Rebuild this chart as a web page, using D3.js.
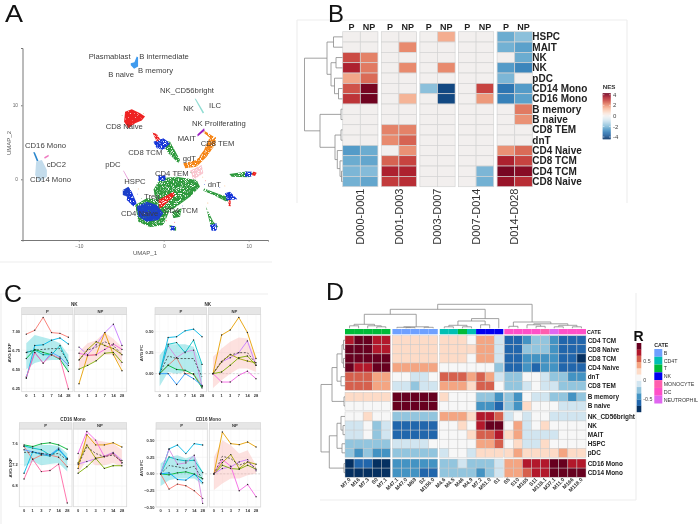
<!DOCTYPE html>
<html><head><meta charset="utf-8">
<script src="https://cdn.jsdelivr.net/npm/d3@7"></script>
<style>html,body{margin:0;background:#fff}svg{display:block;font-family:"Liberation Sans",Arial,sans-serif;filter:blur(.3px)}</style>
</head><body><svg id="c" width="700" height="524"></svg>
<script>
/* ---------- Panel A data (UMAP units) ---------- */
const umapTicksX=[-10,0,10], umapTicksY=[0,10];
const umapGreen=[
 [[-.43,.14],[1.53,.36],[3.88,-.09],[4.27,-.99],[3.1,-2.34],[1.53,-3.69],[.35,-4.59],[-.82,-3.24],[-1.22,-1.44]],
 [[-3.37,-3.47],[-2,-2.57],[-.43,-2.79],[.55,-4.59],[-.04,-6.17],[-1.61,-6.49],[-2.98,-5.72]],
 [[-.43,5.32],[.75,5.09],[1.92,2.61],[1.73,2.16],[.55,3.51]],
 [[7.73,.72],[9.76,1.04],[10.94,.81],[9.96,.27],[8,.36]],
 [[4.67,-1.22],[6.82,-2.12],[8.2,-2.57],[7.41,-3.02],[5.84,-2.12],[4.67,-1.53]],
 [[4.94,-3.69],[5.84,-5.72],[6.43,-6.4],[5.65,-6.85],[5.25,-5.05]],
 [[.94,-4.37],[2.12,-3.92],[1.92,-5.05],[1.14,-5.27]],
 [[.67,-6.17],[1.45,-6.4],[1.45,-6.94],[.75,-6.76]]];
const umapBlueCore=[
 [[-3.18,-3.69],[-2,-3.02],[-.82,-3.47],[-.04,-4.59],[-.63,-5.5],[-2,-5.72],[-2.98,-5.05]],
 [[-4.82,-1.44],[-4.16,-.99],[-3.9,-1.7],[-4.2,-2.4],[-4.82,-2.12]]];
const umapBlue=[
 [[-4.16,-.99],[-3.76,-1.67],[-3.18,-3.24],[-3.57,-3.69],[-4.35,-2.79]],
 [[-1.22,5.09],[-.04,5.54],[.75,4.86],[-.04,3.96],[-.82,4.19]],
 [[9.57,1.04],[10.35,1.04],[10.35,.36],[9.57,.36]],
 [[7.22,-1.89],[7.8,-1.67],[8.67,-2.7],[7.41,-2.88]],
 [[5.45,-6.17],[6.24,-5.95],[6.24,-6.94],[5.65,-6.94]],
 [[-.63,.55],[.2,.55],[.2,-.2],[-.63,-.2]],
 [[.8,-6.3],[1.3,-6.3],[1.3,-6.9],[.8,-6.9]]];
const umapRedCore=[[[-4.55,9.14],[-3.76,9.46],[-2.78,8.92],[-2.2,8.47],[-2.59,7.93],[-3.37,7.57],[-4.16,6.89],[-4.67,7.79]]];
const umapRed=[
 [[-.63,-2.79],[1.14,-1.67],[1.33,-2.12],[-.04,-3.69],[-.51,-3.92]],
 [[-1.33,6.31],[-.82,6.13],[-.43,5.41],[-.82,5.09]],
 [[10.55,1.04],[10.94,.9],[10.75,.45],[10.35,.59]],
 [[7.61,-2.79],[7.88,-2.88],[7.88,-3.69],[7.65,-3.6]]];
const umapOrange=[
 [[5.65,5.77],[6.16,5.68],[6.04,4.64],[5.06,3.06],[3.88,1.71],[2.51,1.49],[2.31,2.16],[3.88,2.61],[4.75,3.96],[5.25,5.32]],
 [[4.75,6.58],[5.84,5.77],[5.65,5.41],[4.67,6.31]]];
const umapPink=[[[3.1,1.17],[4.47,1.94],[4.67,.81],[3.49,-.09]]];
const umapMono=[[-15.02,2.39],[-14.35,2.61],[-13.76,1.26],[-13.76,.36],[-14.63,-.32],[-15.14,.59]];
const umapCD16=[[-15.37,3.65],[-15.18,3.65],[-14.75,2.52],[-14.94,2.43]];
const umapCDC2=[[-14.08,2.97],[-13.57,3.33],[-13.53,3.11],[-14,2.79]];
const umapB=[[-3.88,15.68],[-3.45,15.81],[-3.18,16.58],[-3.02,16.49],[-3.02,15.23],[-3.49,14.95],[-3.88,15.41]];
const umapMAIT=[[3.96,6.04],[4.75,6.89],[4.82,6.58],[4,5.77]];
const umapNK=[[3.65,10.9],[3.78,10.9],[4.75,9.01],[4.6,8.9]];
const umapPDC=[[-4.78,1.17],[-4.7,1.17],[-4.1,-.09],[-4.2,-.09]];
const umapSparse=[[3.2,.9],[4.9,-.2],[4.8,-.7],[4.6,.3],[-.9,-1.6],[-1.6,-2.2],[-3.1,-2],[-3,-1.3],[-2.6,-2.6],[1.2,.7],[2.3,.7],[5.2,-3.2],[2.1,1.1],[1.3,-5.8],[2.2,-3.6],[-2.4,8.9],[-4.9,8.6],[.3,-5.6],[6.6,-1.1],[7.2,-.9]];
const clusterNames=["Plasmablast","B intermediate","B naive","B memory","NK_CD56bright","NK","ILC","NK Proliferating","CD8 Naive","MAIT","CD8 TEM","CD16 Mono","CD8 TCM","cDC2","pDC","gdT","CD4 TEM","CD14 Mono","HSPC","dnT","Treg","CD4 TCM","CD4 Naive"];
const clusterLabelAt=[[88.7,56],[139.3,56],[108.3,74],[138,70.7],[160,90],[183.3,108.3],[209,105],[192,123.3],[105.7,126],[177.7,138],[200.7,143.3],[25,145.7],[128.3,152],[46.7,164.7],[105.3,164],[182.7,158.7],[155,173],[30,179.3],[124.3,181],[207.7,184.3],[144,196],[164,210.3],[121,213.3]];

/* ---------- Panel B data ---------- */
const nesRows=["HSPC","MAIT","NK","NK","pDC","CD14 Mono","CD16 Mono","B memory","B naive","CD8 TEM","dnT","CD4 Naive","CD8 TCM","CD4 TCM","CD8 Naive"];
const nesGroups=["D000-D001","D001-D003","D003-D007","D007-D014","D014-D028"];
const nesSubs=["P","NP"];
const nesValues=[
 [0,0, 0,0, 0,1.6, 0,0, -2.2,-1.8],
 [0,0, 0,2.1, 0,0, 0,0, -2.1,-2.4],
 [2.9,2.2, 0,0, 0,0, 0,0, 0,-2.2],
 [3.5,2.3, 0,2.1, 0,2.1, 0,0, -2.5,-2.9],
 [1.7,2.5, 0,0, 0,0, 0,0, -2,0],
 [2.8,4.2, 0,0, -1.8,-4, 0,3, -3.2,-2.5],
 [3.2,4.3, 0,1.5, 0,-4, 0,1.9, -3,-2.4],
 [0,0, 0,0, 0,0, 0,0, 0,2.3],
 [0,0, 0,0, 0,0, 0,0, 0,2.0],
 [0,0, 2.2,2.2, 0,0, 0,0, 0,0],
 [0,0, 2.1,2.6, 0,0, 0,0, 0,0],
 [-2.5,-2.2, 0,2, 0,0, 0,0, 2,2.5],
 [-2.2,-2.3, 2.6,3, 0,0, 0,0, 3.5,3],
 [-2,-1.9, 3.5,3.5, 0,0, 0,-2, 4.2,4],
 [-2.1,-2.3, 3.1,3.3, 0,0, 0,-2.1, 3.8,3.3]];
const nesLegendTicks=[4,2,0,-2,-4];
const nesTree=[38,[15.5,[9,0,1],[11.5,[6.5,2,3],[8,4,[4,5,6]]]],[22.5,[1.5,7,8],[7.5,[1.5,9,10],[5.2,11,[2.5,12,[1,13,14]]]]]];

/* ---------- Panel C data ---------- */
const days=[0,1,3,7,14,28];
const pColors=["#f8766d","#00b8e7","#00bfc4","#00ba38","#619cff","#ff67a4"];
const npColors=["#c77cff","#e69f00","#a3a500","#7cae00","#f564e3"];
const nkExpP=[[6.96,7.01,7.18,6.98,6.97,6.92],[6.38,6.81,6.82,6.88,6.91,6.83],[6.72,6.75,6.69,6.69,6.81,6.58],[6.64,6.76,6.72,6.69,6.63,6.47],[6.40,6.72,6.58,6.72,6.66,6.55],[6.39,6.72,6.58,6.69,6.64,6.24]];
const nkExpPMean=[6.72,6.75,6.76,6.77,6.77,6.59], nkExpPHi=[6.84,6.95,6.92,6.89,6.84,6.69], nkExpPLo=[6.50,6.58,6.61,6.62,6.62,6.47];
const nkExpNP=[[6.79,6.69,6.82,6.98,7.09,6.81],[6.31,6.68,6.69,6.98,6.69,6.48],[6.62,6.76,6.86,6.81,6.77,6.69],[6.50,6.55,6.61,6.71,6.72,6.59],[6.71,6.68,6.69,6.76,6.83,6.76]];
const nkExpNPMean=[6.62,6.75,6.79,6.86,6.81,6.69], nkExpNPHi=[6.73,6.84,6.88,6.98,6.90,6.79], nkExpNPLo=[6.50,6.56,6.61,6.69,6.69,6.53];
const fcPColors=["#d58ae0","#00b8e7","#00bfc4","#e08070","#00ba38","#2e9bff"];
const nkFcP=[[0,.33,.19,.26,.28,-.15],[0,.43,.44,.51,.53,.44],[0,.35,.37,.25,.40,.11],[0,.10,.19,0,0,-.15],[0,.10,.05,.04,-.01,-.17],[0,0,-.13,0,-.06,-.14]];
const nkFcPMean=[0,.21,.18,.18,.18,-.04], nkFcPHi=[.22,.35,.35,.35,.32,.11], nkFcPLo=[-.15,.02,0,.02,.02,-.17];
const nkFcNP=[[0,.14,.19,.25,.39,.10],[0,.46,.52,.67,.49,.18],[0,.14,.23,.18,.15,.13],[0,.02,.10,.19,.21,.10],[0,-.10,-.10,-.02,.03,-.06]];
const nkFcNPMean=[0,.15,.22,.25,.25,.12], nkFcNPHi=[.20,.30,.38,.43,.42,.18], nkFcNPLo=[-.17,-.08,0,.06,.06,.02];
const monoPColors=["#f8766d","#00ba38","#00bfc4","#619cff","#00b8e7","#ff67a4"];
const monoExpP=[[7.54,7.30,7.38,7.38,7.34,7.16],[7.57,7.54,7.59,7.61,7.57,7.49],[7.55,7.51,7.48,7.38,7.49,7.32],[7.48,7.44,7.41,7.38,7.51,7.30],[7.04,7.44,7.39,7.36,7.48,7.31],[6.93,7.30,7.07,7.09,7.21,6.48]];
const monoExpPMean=[7.43,7.43,7.41,7.39,7.41,7.28], monoExpPHi=[7.57,7.54,7.57,7.57,7.55,7.41], monoExpPLo=[7.16,7.26,7.19,7.21,7.23,7.07];
const monoExpNP=[[7.21,7.26,7.31,7.36,7.43,7.28],[7.13,7.76,7.57,7.57,7.61,7.53],[7.23,7.57,7.32,7.35,7.41,7.24],[7.04,7.16,7.32,7.13,7.18,7.18],[7.41,7.82,7.66,7.35,7.41,7.23]];
const monoExpNPMean=[7.19,7.54,7.41,7.35,7.38,7.26], monoExpNPHi=[7.35,7.74,7.66,7.63,7.60,7.48], monoExpNPLo=[7.04,7.29,7.19,7.19,7.23,7.16];
const monoFcP=[[0,-.23,-.155,-.18,-.255,-.37],[0,-.015,.015,.03,-.005,-.075],[0,.255,.215,.195,.205,.02],[0,.015,-.085,-.095,-.005,-.135],[0,.375,.435,.305,.455,.435],[0,.37,.145,.165,.28,-.445]];
const monoFcPMean=[0,.125,.105,.08,.115,-.085], monoFcPHi=[.155,.255,.28,.23,.28,.03], monoFcPLo=[-.185,-.095,-.07,-.07,-.07,-.17];
const monoFcNP=[[0,.08,.105,.18,.215,.045],[0,.63,.455,.44,.48,.405],[0,.17,.29,.08,.18,.145],[0,.13,.08,.07,.13,.07],[0,.215,.115,-.255,-.16,-.345]];
const monoFcNPMean=[0,.265,.23,.13,.18,.08], monoFcNPHi=[.255,.505,.43,.305,.355,.13], monoFcNPLo=[-.245,-.145,-.07,-.07,-.02,.005];

/* ---------- Panel D data ---------- */
const corRowGroups=[["CD4 TCM","CD8 Naive","CD8 TCM","CD4 Naive","dnT","CD8 TEM"],["B memory","B naive"],["NK_CD56bright","NK","MAIT","HSPC","pDC"],["CD16 Mono","CD14 Mono"]];
const corColGroups=[["M7.0","M16","M7.3","S0","M7.1"],["M47.1","M47.0","M69","S2","M156.0"],["M4.6","M4.5","M46","M4.9","M7.2","M51.0","S1"],["S5","S10","M165","S11","M118.1","M37.1","M11.0","M166","M118.0"]];
const cateNames=["B","CD4T","T","NK","MONOCYTE","DC","NEUTROPHIL"];
const cateColors=["#6ea0ff","#00bfb3","#00ba38","#0000ee","#ff5fae","#ff4fc8","#e066f0"];
const colCate=[2,2,2,2,2, 0,0,0,0,0, 1,1,2,1,3,3,3, 5,5,5,5,4,6,5,5,5];
const corValues=[
 [.7,.9,.9,.7,.7, .18,.18,.18,.18,.18, .18,.18,.18,0,.36,.36,-.18, -.73,-.73,-.55,-.36,-.36,-.55,-.73,-.73,-.73],
 [.9,.9,.9,.7,.7, .18,.18,.18,.18,.18, .18,.18,.18,.18,.36,.36,-.18, -.73,-.73,-.36,-.36,-.36,-.55,-.73,-.73,-.73],
 [.9,.9,.9,.9,.9, .18,.18,.18,.18,.18, .18,.18,.18,0,.36,.36,-.18, -.73,-.73,-.55,-.55,-.55,-.55,-.73,-.73,-.9],
 [.9,.7,.7,.9,.9, .36,.36,.36,.36,.36, 0,0,0,0,0,0,-.36, -.73,-.73,-.55,-.73,-.55,-.55,-.73,-.73,-.73],
 [.55,.55,.55,.36,.36, 0,0,-.18,-.18,0, .55,.55,.55,.36,.55,.36,-.18, -.36,-.36,0,0,-.18,-.36,-.36,-.55,-.55],
 [.55,.55,.55,.36,.36, -.18,-.18,-.36,-.18,-.18, .36,.36,.36,.18,.55,.55,0, -.36,-.36,-.18,0,-.18,-.18,-.36,-.36,-.36],
 [.18,.18,.18,.18,.18, .9,.9,.9,.9,.9, .18,0,0,0,-.36,-.36,-.55, -.36,-.55,0,-.18,-.18,-.36,-.36,-.55,-.36],
 [0,0,0,0,0, .9,.9,.9,.9,.9, 0,0,0,0,-.55,-.55,-.73, -.36,-.55,.18,0,0,0,-.18,-.18,-.18],
 [0,0,.18,0,0, -.36,-.36,-.36,-.36,-.36, .36,.36,.36,.18,.7,.7,.55, -.18,0,-.18,0,0,-.18,-.18,-.18,-.18],
 [-.18,-.18,0,-.36,-.18, -.73,-.73,-.73,-.73,-.73, 0,0,.18,0,.7,.9,.9, 0,.36,-.18,0,.18,0,0,0,0],
 [-.18,-.18,0,-.36,-.18, -.73,-.73,-.73,-.73,-.73, 0,0,0,.18,.55,.55,.7, .18,.36,-.18,-.18,-.18,-.18,0,0,0],
 [-.36,-.36,-.36,-.36,-.36, -.18,-.18,-.18,-.18,0, 0,0,0,0,.36,.36,.55, 0,.18,-.18,-.18,.18,0,0,0,0],
 [-.36,-.55,-.36,-.55,-.55, -.36,-.36,-.36,-.36,-.36, -.18,0,0,-.18,.18,.18,.18, .18,.36,.18,.18,.18,.18,.36,.18,.18],
 [-.9,-.73,-.73,-.9,-.9, -.55,-.55,-.55,-.55,-.55, -.36,-.36,-.18,-.36,-.36,-.36,-.18, .36,.36,.7,.7,.7,.9,.9,.7,.7],
 [-.9,-.9,-.9,-.9,-.9, -.55,-.55,-.55,-.73,-.73, -.36,-.36,-.36,-.36,-.55,-.36,-.18, .36,.36,.55,.7,.7,.9,.9,.9,.9]];
const corBands=["#053061","#2166ac","#4393c3","#92c5de","#d1e5f0","#f7f7f7","#fddbc7","#f4a582","#d6604d","#b2182b","#67001f"];
const corTicks=[.5,0,-.5];
const corColTree=[24,[19,[14,[4,[2.5,0,1],[2.5,2,[1.5,3,4]]],[1.5,[1,5,[.7,6,7]],[1,8,9]]],[9.7,[7.3,[3,[1.5,10,11],[1.5,12,13]],[3.5,14,15]],16]],[6.3,[2,17,18],[4.5,[3.5,19,[2,20,21]],[3,[1.5,22,23],[1.5,24,25]]]]];
const corRowTree=[24,[13,[8,[3,[1.5,0,1],[1.5,2,3]],[4,4,5]],[1,6,7]],[15.7,[8,[4,8,[2,9,10]],[3,11,12]],[1,13,14]]];

/* ---------- drawing ---------- */
const svg=d3.select("#c");
svg.append("defs").html(`
 <filter id="speck" x="-10%" y="-10%" width="120%" height="120%">
  <feTurbulence type="fractalNoise" baseFrequency="1.4" numOctaves="1" seed="4" result="n"/>
  <feColorMatrix in="n" type="matrix" values="0 0 0 0 0 0 0 0 0 0 0 0 0 0 0 7 0 0 0 -2.3" result="m"/>
  <feComposite in="SourceGraphic" in2="m" operator="in"/>
  <feGaussianBlur stdDeviation="0.3"/>
 </filter>
 <filter id="speckDense" x="-10%" y="-10%" width="120%" height="120%">
  <feTurbulence type="fractalNoise" baseFrequency="1.4" numOctaves="1" seed="9" result="n"/>
  <feColorMatrix in="n" type="matrix" values="0 0 0 0 0 0 0 0 0 0 0 0 0 0 0 7 0 0 0 -1.4" result="m"/>
  <feComposite in="SourceGraphic" in2="m" operator="in"/>
  <feGaussianBlur stdDeviation="0.3"/>
 </filter>
 <filter id="soft"><feGaussianBlur stdDeviation="0.4"/></filter>`);

// panel frames
[[0,262,272,262],[297,20,297,203],[297,20,627,20],[627,20,627,203],[0,294,268,294],[1,294,1,524],[636,293,636,500],[320,500,636,500]]
 .forEach(l=>svg.append("line").attr("x1",l[0]).attr("y1",l[1]).attr("x2",l[2]).attr("y2",l[3]).attr("stroke","#eeeeee").attr("stroke-width",1.2));
// panel letters
[["A",5,22,24,18],["B",328,21.8,24,16],["C",4,302,24,18],["D",326,300,24,18]].forEach(d=>svg.append("text").text(d[0]).attr("x",d[1]).attr("y",d[2]).attr("font-size",d[3]).attr("textLength",d[4]).attr("lengthAdjust","spacingAndGlyphs").attr("fill","#111"));

function drawDendro(g,tree,leaf,h,horizontal){
 (function walk(n){
  if(typeof n==="number") return {p:leaf(n),v:h(0)};
  const a=walk(n[1]),b=walk(n[2]),v=h(n[0]);
  const d=horizontal?`M${a.v},${a.p}H${v}V${b.p}H${b.v}`:`M${a.p},${a.v}V${v}H${b.p}V${b.v}`;
  g.append("path").attr("d",d).attr("fill","none").attr("stroke","#8a8a8a").attr("stroke-width",.8);
  return {p:(a.p+b.p)/2,v};
 })(tree);
}

/* A */
(function(){
 const x=d3.scaleLinear().domain([-16.63,12.28]).range([22.5,268]);
 const y=d3.scaleLinear().domain([-8.2,17.74]).range([240,48]);
 const g=svg.append("g");
 const line=d3.line().x(d=>x(d[0])).y(d=>y(d[1])).curve(d3.curveLinearClosed);
 const speck=g.append("g").attr("filter","url(#speck)");
 const dense=g.append("g").attr("filter","url(#speckDense)");
 const solid=g.append("g").attr("filter","url(#soft)");
 const put=(par,polys,c,o)=>polys.forEach(p=>par.append("path").attr("d",line(p)).attr("fill",c).attr("opacity",o||1));
 put(speck,umapPink,"#f9c6cf");
 put(speck,umapGreen,"#2f9a3e");
 put(speck,umapOrange,"#f58518");
 put(speck,umapBlue,"#1434d8");
 put(speck,umapRed,"#ee2020");
 put(dense,umapBlueCore,"#1f3fc8");
 put(dense,umapRedCore,"#ee2020");
 put(solid,[umapMono],"#c3dcec");
 put(solid,[umapCD16],"#2a86cc");
 put(solid,[umapCDC2],"#ef7ac0");
 put(solid,[umapB],"#3f9bee");
 put(solid,[umapMAIT],"#9a1fc4");
 put(solid,[umapNK],"#8fdcd2");
 put(solid,[umapPDC],"#d65ec0",.7);
 g.selectAll("circle.s").data(umapSparse).join("circle").attr("cx",d=>x(d[0])).attr("cy",d=>y(d[1])).attr("r",.4)
  .attr("fill",(d,i)=>["#2f9a3e","#ee2020","#1434d8","#f58518"][i%4]);
 const ax=svg.append("g").attr("transform","translate(0,240)").call(d3.axisBottom(x).tickValues(umapTicksX).tickSize(1.5).tickFormat(d3.format("d")));
 const ay=svg.append("g").attr("transform","translate(22.5,0)").call(d3.axisLeft(y).tickValues(umapTicksY).tickSize(1.5).tickFormat(d3.format("d")));
 [ax,ay].forEach(a=>{a.select(".domain").attr("stroke","#777").attr("stroke-width",1);a.selectAll("line").attr("stroke","#777");
  a.selectAll("text").attr("font-size",4.8).attr("fill","#666").attr("font-family","inherit");});
 svg.append("text").text("UMAP_1").attr("x",145).attr("y",254.5).attr("text-anchor","middle").attr("font-size",6).attr("fill","#555");
 svg.append("text").text("UMAP_2").attr("transform","translate(11,143) rotate(-90)").attr("text-anchor","middle").attr("font-size",6).attr("fill","#555");
 clusterNames.forEach((n,i)=>svg.append("text").text(n).attr("x",clusterLabelAt[i][0]).attr("y",clusterLabelAt[i][1]+2.7).attr("font-size",7.7).attr("fill","#3d3d3d"));
})();

/* B */
(function(){
 const color=d3.scaleSequential(t=>d3.interpolateRdBu(1-t)).domain([-4.4,4.4]);
 const gx=d3.scaleBand().domain(nesGroups).range([342.7,532.3]).paddingInner(.088).paddingOuter(0);
 const sx=d3.scaleBand().domain(nesSubs).range([0,gx.bandwidth()]);
 const y=d3.scaleBand().domain(d3.range(nesRows.length)).range([31.7,186.7]);
 const g=svg.append("g");
 nesRows.forEach((r,i)=>nesGroups.forEach((gr,j)=>nesSubs.forEach((s,k)=>{
  g.append("rect").attr("x",gx(gr)+sx(s)).attr("y",y(i)).attr("width",sx.bandwidth()).attr("height",y.bandwidth())
   .attr("fill",color(nesValues[i][j*2+k])).attr("stroke","#d4d4d4").attr("stroke-width",.7);
 })));
 nesGroups.forEach(gr=>{
  nesSubs.forEach(s=>svg.append("text").text(s).attr("x",gx(gr)+sx(s)+sx.bandwidth()/2).attr("y",30).attr("text-anchor","middle").attr("font-size",9).attr("font-weight","bold").attr("fill","#222"));
  svg.append("text").text(gr).attr("transform",`translate(${gx(gr)+gx.bandwidth()/2+3.6},188.5) rotate(-90)`).attr("text-anchor","end").attr("font-size",11).attr("fill","#333");
 });
 nesRows.forEach((r,i)=>svg.append("text").text(r).attr("x",532.3).attr("y",y(i)+y.bandwidth()/2+3.5).attr("font-size",10).attr("font-weight","bold").attr("fill","#222"));
 const h=d3.scaleLinear().domain([0,38]).range([342.5,304.5]);
 drawDendro(svg.append("g"),nesTree,i=>y(i)+y.bandwidth()/2,h,true);
 const ly=d3.scaleLinear().domain([4,-4]).range([94.7,137]);
 d3.range(4.3,-4.31,-.1).forEach(v=>svg.append("rect").attr("x",602.7).attr("width",8).attr("y",ly(v)).attr("height",.75).attr("fill",color(v)));
 nesLegendTicks.forEach(t=>{
  svg.append("text").text(t).attr("x",613).attr("y",ly(t)+2.2).attr("font-size",6).attr("fill","#444");
  svg.append("line").attr("x1",602.7).attr("x2",604.4).attr("y1",ly(t)).attr("y2",ly(t)).attr("stroke","#fff").attr("stroke-width",.5);
  svg.append("line").attr("x1",609).attr("x2",610.7).attr("y1",ly(t)).attr("y2",ly(t)).attr("stroke","#fff").attr("stroke-width",.5);
 });
 svg.append("text").text("NES").attr("x",602.7).attr("y",88.5).attr("font-size",6.2).attr("font-weight","bold").attr("fill","#333");
})();

/* C */
function facet(g,name,x0,x1,y0,y1,y,series,colors,mean,hi,lo,ribbon,strip0,showZero,yTicks){
 const x=d3.scalePoint().domain(days).range([x0,x1]).padding(.55);
 yTicks.forEach(t=>g.append("line").attr("x1",x0).attr("x2",x1).attr("y1",y(t)).attr("y2",y(t)).attr("stroke","#f2f2f2").attr("stroke-width",.6));
 days.forEach(d=>g.append("line").attr("x1",x(d)).attr("x2",x(d)).attr("y1",y0).attr("y2",y1).attr("stroke","#f4f4f4").attr("stroke-width",.5));
 if(showZero) g.append("line").attr("x1",x0).attr("x2",x1).attr("y1",y(0)).attr("y2",y(0)).attr("stroke","#d8d8d8").attr("stroke-width",1).attr("stroke-dasharray","2 1.5");
 const area=d3.area().x((d,i)=>x(days[i])).y0((d,i)=>y(lo[i])).y1(d=>y(d));
 g.append("path").attr("d",area(hi)).attr("fill",ribbon).attr("opacity",.32);
 const line=d3.line().x((d,i)=>x(days[i])).y(d=>y(d));
 series.forEach((s,i)=>{
  g.append("path").attr("d",line(s)).attr("fill","none").attr("stroke",colors[i]).attr("stroke-width",.9);
  s.forEach((v,k)=>g.append("circle").attr("cx",x(days[k])).attr("cy",y(v)).attr("r",.7).attr("fill","#222"));
 });
 g.append("path").attr("d",line(mean)).attr("fill","none").attr("stroke","#222").attr("stroke-width",.7).attr("stroke-dasharray","2 1.6");
 g.append("rect").attr("x",x0).attr("y",y0).attr("width",x1-x0).attr("height",y1-y0).attr("fill","none").attr("stroke","#d9d9d9").attr("stroke-width",.8);
 g.append("rect").attr("x",x0).attr("y",strip0).attr("width",x1-x0).attr("height",y0-strip0).attr("fill","#e6e6e6").attr("stroke","#d4d4d4").attr("stroke-width",.6);
 g.append("text").text(name).attr("x",(x0+x1)/2).attr("y",(strip0+y0)/2+1.5).attr("text-anchor","middle").attr("font-size",4.2).attr("font-weight","bold").attr("fill","#333");
 days.forEach(d=>g.append("text").text(d).attr("x",x(d)).attr("y",y1+4.8).attr("text-anchor","middle").attr("font-size",4).attr("font-weight","bold").attr("fill","#333"));
}
function subplot(o){
 const g=svg.append("g");
 const y=d3.scaleLinear().domain(o.dom).range([o.y1,o.y0]);
 facet(g,"P",o.px[0],o.px[1],o.y0,o.y1,y,o.p,o.pc,o.pm,o.ph,o.pl,"#16c1c9",o.s0,o.zero,o.ticks);
 facet(g,"NP",o.nx[0],o.nx[1],o.y0,o.y1,y,o.n,npColors,o.nm,o.nh,o.nl,"#f8a39b",o.s0,o.zero,o.ticks);
 g.append("text").text(o.title).attr("x",(o.px[0]+o.nx[1])/2).attr("y",o.s0-2.2).attr("text-anchor","middle").attr("font-size",4.6).attr("font-weight","bold").attr("fill","#333");
 o.ticks.forEach(t=>g.append("text").text(d3.format(o.fmt)(t)).attr("x",o.px[0]-1.6).attr("y",y(t)+1.5).attr("text-anchor","end").attr("font-size",4).attr("font-weight","bold").attr("fill","#333"));
 g.append("text").text(o.ylab).attr("transform",`translate(${o.labX},${(o.y0+o.y1)/2}) rotate(-90)`).attr("text-anchor","middle").attr("font-size",4.4).attr("font-weight","bold").attr("fill","#333");
}
subplot({title:"NK",ylab:"AVG EXP",labX:10.5,dom:[6.205,7.22],y0:314.3,y1:391.7,s0:307.7,px:[21.7,73],nx:[74.3,126.7],ticks:[7,6.75,6.5,6.25],fmt:".2f",
 p:nkExpP,pc:pColors,pm:nkExpPMean,ph:nkExpPHi,pl:nkExpPLo,n:nkExpNP,nm:nkExpNPMean,nh:nkExpNPHi,nl:nkExpNPLo});
subplot({title:"NK",ylab:"AVG FC",labX:143,dom:[-.215,.707],y0:314.3,y1:391.7,s0:307.7,px:[155,206.7],nx:[208.3,260.7],ticks:[.5,.25,0],fmt:".2f",zero:true,
 p:nkFcP,pc:fcPColors,pm:nkFcPMean,ph:nkFcPHi,pl:nkFcPLo,n:nkFcNP,nm:nkFcNPMean,nh:nkFcNPHi,nl:nkFcNPLo});
subplot({title:"CD16 Mono",ylab:"AVG EXP",labX:11.5,dom:[6.412,7.868],y0:429,y1:506.7,s0:422.7,px:[19.3,72],nx:[73.3,126.7],ticks:[7.6,7.2,6.8],fmt:".1f",
 p:monoExpP,pc:monoPColors,pm:monoExpPMean,ph:monoExpPHi,pl:monoExpPLo,n:monoExpNP,nm:monoExpNPMean,nh:monoExpNPHi,nl:monoExpNPLo});
subplot({title:"CD16 Mono",ylab:"AVG FC",labX:143,dom:[-.5,.676],y0:429,y1:507,s0:422.7,px:[156,207.3],nx:[209.3,260.7],ticks:[.5,.25,0,-.25,-.5],fmt:".2f",zero:true,
 p:monoFcP,pc:["#f8766d","#00ba38","#00bfc4","#00a9ff","#00b8e7","#d58ae0"],pm:monoFcPMean,ph:monoFcPHi,pl:monoFcPLo,n:monoFcNP,nm:monoFcNPMean,nh:monoFcNPHi,nl:monoFcNPLo});

/* D */
(function(){
 const band=d3.scaleQuantize().domain([-1,1]).range(corBands);
 const gapX=[0,2,2,1], gapY=[0,2,1.4,1.6];
 const colW=(586-345-5)/26, rowH=9.1;
 const colX=[],rowY=[];
 let cx=345; corColGroups.forEach((g,i)=>{cx+=gapX[i];g.forEach(()=>{colX.push(cx);cx+=colW;});});
 let cy=335.7; corRowGroups.forEach((g,i)=>{cy+=gapY[i];g.forEach(()=>{rowY.push(cy);cy+=rowH;});});
 const rows=corRowGroups.flat(), cols=corColGroups.flat();
 const g=svg.append("g");
 rows.forEach((r,i)=>cols.forEach((c,j)=>{
  g.append("rect").attr("x",colX[j]).attr("y",rowY[i]).attr("width",colW).attr("height",rowH)
   .attr("fill",band(corValues[i][j])).attr("stroke","#c8c8c8").attr("stroke-width",.45);
 }));
 cols.forEach((c,j)=>{
  svg.append("rect").attr("x",colX[j]).attr("y",329).attr("width",colW).attr("height",5.3).attr("fill",cateColors[colCate[j]]);
  svg.append("text").text(c).attr("transform",`translate(${colX[j]+colW/2+1.6},480) rotate(-45)`).attr("text-anchor","end").attr("font-size",5.3).attr("font-weight","bold").attr("fill","#333");
 });
 svg.append("text").text("CATE").attr("x",587).attr("y",333.5).attr("font-size",5.3).attr("font-weight","bold").attr("fill","#222");
 rows.forEach((r,i)=>svg.append("text").text(r).attr("x",587.7).attr("y",rowY[i]+rowH/2+2.3).attr("font-size",6.4).attr("font-weight","bold").attr("fill","#222"));
 const hTop=d3.scaleLinear().domain([0,24]).range([328.3,304.3]);
 drawDendro(svg.append("g"),corColTree,i=>colX[i]+colW/2,hTop,false);
 const hLeft=d3.scaleLinear().domain([0,24]).range([345,321]);
 drawDendro(svg.append("g"),corRowTree,i=>rowY[i]+rowH/2,hLeft,true);
 const ky=d3.scaleBand().domain(d3.range(corBands.length-1,-1,-1)).range([343,412]);
 corBands.forEach((c,i)=>svg.append("rect").attr("x",636.7).attr("y",ky(i)).attr("width",4.6).attr("height",ky.bandwidth()+.2).attr("fill",c));
 const kt=d3.scaleLinear().domain([.5,-.5]).range([361,399]);
 corTicks.forEach(t=>svg.append("text").text(t).attr("x",643.3).attr("y",kt(t)+1.9).attr("font-size",5.3).attr("fill","#444"));
 svg.append("text").text("R").attr("x",633.5).attr("y",340.5).attr("font-size",14).attr("font-weight","bold").attr("fill","#111");
 svg.append("text").text("CATE").attr("x",654.3).attr("y",347).attr("font-size",5.3).attr("font-weight","bold").attr("fill","#222");
 const ly=d3.scaleBand().domain(cateNames).range([349,403.5]);
 cateNames.forEach((n,i)=>{
  svg.append("rect").attr("x",654.3).attr("y",ly(n)).attr("width",8).attr("height",ly.bandwidth()).attr("fill",cateColors[i]);
  svg.append("text").text(n).attr("x",663.7).attr("y",ly(n)+ly.bandwidth()/2+1.9).attr("font-size",5.3).attr("fill","#333");
 });
})();
</script></body></html>
